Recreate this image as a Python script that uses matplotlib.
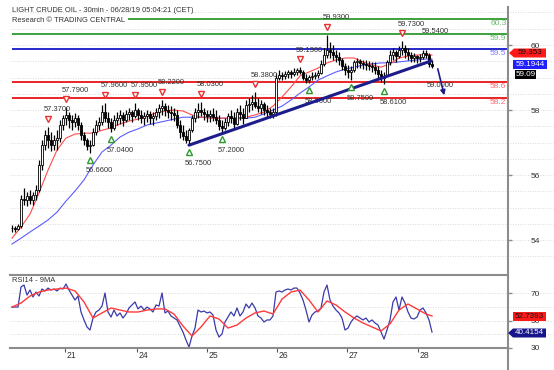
import numpy as np
import matplotlib
matplotlib.use("Agg")
import matplotlib.pyplot as plt
from matplotlib import transforms
from matplotlib.lines import Line2D
from matplotlib.patches import Polygon

plt.rcParams['font.family'] = ['Liberation Sans', 'DejaVu Sans']

# 30min crude oil, resampled to one bar per ~3px column
high = [54.46, 54.43, 54.49, 55.38, 55.60, 55.48, 55.54, 55.48, 55.69, 56.46,
        57.08, 57.38, 57.48, 57.32, 57.23, 57.38, 57.69, 57.85, 58.09, 57.94,
        57.85, 57.91, 57.85, 57.63, 57.32, 57.14, 57.08, 57.45, 57.69, 57.78,
        58.15, 58.22, 57.94, 57.75, 57.85, 57.94, 58.00, 57.94, 58.00, 58.06,
        58.00, 58.22, 58.06, 58.00, 57.94, 58.00, 57.97, 57.94, 58.06, 58.18,
        58.31, 58.22, 58.15, 58.12, 58.06, 58.00, 57.69, 57.54, 57.38, 57.45,
        57.85, 58.06, 58.22, 58.25, 58.06, 58.00, 58.00, 58.06, 58.00, 57.85,
        57.69, 57.75, 57.91, 58.00, 57.94, 58.06, 58.15, 58.06, 58.31, 58.37,
        58.46, 58.55, 58.37, 58.31, 58.25, 58.15, 58.06, 58.06, 59.14, 59.23,
        59.17, 59.20, 59.23, 59.23, 59.29, 59.29, 59.32, 59.23, 59.11, 59.08,
        59.17, 59.17, 59.23, 59.54, 59.91, 60.31, 60.09, 60.00, 59.85, 59.78,
        59.60, 59.45, 59.38, 59.35, 59.54, 59.60, 59.57, 59.54, 59.54, 59.51,
        59.48, 59.48, 59.35, 59.23, 59.17, 59.54, 59.85, 59.91, 59.85, 59.97,
        60.12, 60.00, 59.91, 59.78, 59.75, 59.69, 59.72, 59.85, 59.85, 59.75, 59.54]
low = [54.25, 54.25, 54.31, 54.37, 55.08, 55.05, 55.11, 55.08, 55.23, 55.48,
       56.15, 56.77, 56.83, 56.74, 56.77, 56.77, 57.02, 57.38, 57.54, 57.45,
       57.38, 57.48, 57.38, 57.08, 56.92, 56.77, 56.68, 56.89, 57.23, 57.38,
       57.54, 57.63, 57.45, 57.32, 57.38, 57.54, 57.57, 57.51, 57.63, 57.69,
       57.63, 57.75, 57.69, 57.60, 57.54, 57.63, 57.57, 57.54, 57.69, 57.75,
       57.85, 57.82, 57.75, 57.69, 57.66, 57.45, 57.14, 57.08, 56.98, 56.92,
       57.32, 57.63, 57.75, 57.82, 57.69, 57.63, 57.63, 57.66, 57.57, 57.38,
       57.32, 57.38, 57.51, 57.60, 57.45, 57.54, 57.69, 57.57, 57.75, 57.94,
       58.00, 58.06, 57.94, 57.88, 57.85, 57.75, 57.75, 57.75, 57.82, 58.92,
       58.92, 58.95, 58.98, 58.98, 59.05, 59.08, 59.11, 58.92, 58.83, 58.83,
       58.92, 58.95, 58.98, 59.11, 59.35, 59.60, 59.60, 59.54, 59.48, 59.38,
       59.23, 59.08, 58.98, 58.92, 59.17, 59.29, 59.29, 59.26, 59.23, 59.23,
       59.17, 59.11, 58.98, 58.86, 58.80, 59.05, 59.38, 59.54, 59.48, 59.60,
       59.69, 59.60, 59.54, 59.48, 59.48, 59.45, 59.48, 59.57, 59.60, 59.32, 59.29]
close = [54.37, 54.34, 54.43, 55.28, 55.23, 55.35, 55.23, 55.38, 55.54, 56.31,
         56.92, 57.23, 57.08, 56.92, 57.08, 57.14, 57.54, 57.75, 57.85, 57.69,
         57.63, 57.75, 57.54, 57.23, 57.08, 56.89, 56.92, 57.32, 57.54, 57.63,
         57.94, 57.75, 57.63, 57.45, 57.69, 57.75, 57.85, 57.69, 57.88, 57.94,
         57.82, 58.00, 57.85, 57.75, 57.82, 57.88, 57.75, 57.82, 57.94, 58.06,
         58.12, 58.00, 57.94, 57.91, 57.85, 57.54, 57.32, 57.20, 57.08, 57.38,
         57.75, 57.94, 58.00, 57.94, 57.88, 57.82, 57.88, 57.78, 57.69, 57.51,
         57.45, 57.63, 57.82, 57.75, 57.57, 57.94, 57.88, 57.75, 58.15, 58.18,
         58.25, 58.12, 58.06, 58.18, 58.00, 57.94, 57.88, 57.94, 58.98, 59.08,
         59.05, 59.11, 59.17, 59.11, 59.17, 59.23, 59.17, 58.98, 58.92, 59.02,
         59.05, 59.08, 59.14, 59.42, 59.69, 59.85, 59.78, 59.69, 59.63, 59.54,
         59.35, 59.23, 59.17, 59.23, 59.48, 59.51, 59.45, 59.42, 59.38, 59.35,
         59.32, 59.23, 59.11, 58.98, 59.05, 59.48, 59.69, 59.78, 59.66, 59.85,
         59.91, 59.78, 59.69, 59.60, 59.66, 59.60, 59.63, 59.75, 59.69, 59.42, 59.35]

# moving averages, read every 3rd bar
ma_bars = list(range(0, 139, 3)) + [140]
ma_red = [54.06, 54.40, 54.80, 55.45, 56.15, 56.77, 57.14, 57.26, 57.29, 57.29,
          57.38, 57.45, 57.57, 57.66, 57.72, 57.82, 57.91, 57.97, 58.00, 57.97,
          57.85, 57.78, 57.75, 57.75, 57.75, 57.75, 57.78, 57.85, 57.94, 58.12,
          58.40, 58.71, 59.05, 59.17, 59.29, 59.45, 59.54, 59.60, 59.60, 59.48,
          59.38, 59.32, 59.42, 59.60, 59.66, 59.69, 59.72, 59.69]
ma_blue = [53.88, 54.06, 54.25, 54.43, 54.62, 54.86, 55.20, 55.51, 55.85, 56.31,
           56.71, 56.92, 57.17, 57.32, 57.42, 57.54, 57.60, 57.66, 57.72, 57.78,
           57.78, 57.78, 57.78, 57.75, 57.75, 57.75, 57.75, 57.78, 57.88, 58.00,
           58.12, 58.31, 58.52, 58.71, 58.92, 59.05, 59.17, 59.26, 59.32, 59.38,
           59.42, 59.45, 59.45, 59.48, 59.51, 59.54, 59.57, 59.57]

rsi = [59.8, 59.8, 59.8, 74.4, 75.8, 68.5, 72.2, 67.1, 70.7, 67.8,
       72.9, 71.5, 73.6, 72.2, 72.9, 71.5, 73.6, 72.9, 76.5, 72.2,
       68.5, 64.9, 67.8, 56.2, 50.4, 45.3, 43.1, 51.8, 56.2, 57.6,
       60.5, 70.0, 56.2, 52.5, 57.6, 53.3, 55.5, 51.8, 54.7, 59.1,
       61.3, 63.5, 58.4, 60.5, 57.6, 59.8, 58.4, 56.2, 61.3, 60.5,
       70.0, 55.5, 56.9, 53.3, 51.8, 50.4, 46.0, 41.6, 35.8, 30.7,
       38.7, 44.5, 57.6, 56.2, 56.9, 55.5, 56.2, 54.0, 43.1, 38.0,
       40.2, 48.9, 52.5, 56.2, 53.3, 59.1, 53.3, 56.2, 62.0, 59.1,
       62.7, 59.1, 53.3, 51.8, 48.9, 50.4, 50.4, 53.3, 70.7, 71.5,
       70.7, 72.2, 72.9, 72.2, 73.6, 73.6, 70.0, 64.9, 57.6, 48.9,
       54.0, 56.2, 56.9, 59.1, 70.7, 75.8, 64.9, 60.5, 57.6, 55.5,
       51.8, 43.1, 44.5, 48.9, 51.8, 53.3, 51.8, 50.4, 51.8, 48.9,
       50.4, 48.2, 46.7, 41.6, 36.5, 43.1, 50.4, 63.5, 67.1, 57.6,
       67.1, 62.7, 56.2, 51.8, 51.1, 52.5, 57.6, 59.1, 55.5, 50.4, 41.6]
rsi_ma = [59.8, 62.7, 67.8, 70.7, 72.2, 72.9, 73.6, 71.5, 63.5, 51.8,
          55.5, 59.1, 57.6, 56.2, 56.2, 57.6, 58.4, 58.4, 54.7, 46.0,
          38.7, 45.3, 53.3, 51.1, 44.5, 46.7, 51.8, 55.5, 56.9, 54.7,
          65.6, 70.7, 72.2, 64.9, 56.2, 64.2, 61.3, 56.2, 51.8, 48.2,
          45.3, 42.4, 47.5, 57.6, 62.0, 58.4, 54.7, 53.3]

# support / resistance levels (line, label)
levels = [60.80, 60.34, 59.88, 58.86, 58.37]
level_labels = ["60.3", "59.9", "59.5", "58.6", "58.2"]
level_colors = ['#2f9a2f', '#2f9a2f', '#1616c8', '#e81414', '#e81414']
level_text_colors = ['#6dbb6d', '#6dbb6d', '#7d7dff', '#ff6a6a', '#ff6a6a']

# swing highs / lows
peak_bars = [12, 18, 31, 41, 50, 63, 81, 96, 105, 130]
peak_labels = ["57.3700", "57.7900", "57.9600", "57.9500", "58.2200",
               "58.0300", "58.3800", "59.1300", "59.9300", "59.7300"]
trough_bars = [26, 33, 59, 70, 99, 113, 124]
trough_labels = ["56.6600", "57.0400", "56.7500", "57.2000",
                 "58.6600", "58.7500", "58.6100"]

trend_x = [59, 139.7]
trend_y = [56.92, 59.51]

day_ticks = [17.7, 41.7, 65.0, 88.3, 111.7, 135.3]
day_labels = ["21", "24", "25", "26", "27", "28"]

W, H = 554, 370
fig = plt.figure(figsize=(W / 100, H / 100), dpi=100)
ax = fig.add_axes([10 / W, 1 - 272 / H, 498 / W, 267 / H])
rx = fig.add_axes([10 / W, 1 - 348 / H, 498 / W, 73 / H])
xmax = 165.33
fs = 5.4
grey = '#8c8c8c'

high = np.array(high)
low = np.array(low)
close = np.array(close)
bars = np.arange(len(close))
opens = np.r_[close[0], close[:-1]]

# ---- price panel ----
for g in np.arange(53.5, 61.01, 0.5):
    ax.plot([0, 1.09], [g, g], transform=ax.get_yaxis_transform(), clip_on=False,
            color='#cfcfcf', lw=0.6, ls=(0, (1, 2)), zorder=0)

for lv, c in zip(levels, level_colors):
    ax.plot([0, xmax], [lv, lv], color=c, lw=1.3, zorder=1, solid_capstyle='butt')
for lv, t, c in zip(levels, level_labels, level_text_colors):
    ax.annotate(t, (0.997, lv), xycoords=('axes fraction', 'data'), xytext=(0, -1),
                textcoords='offset points', ha='right', va='top', color=c, fontsize=fs + 0.6)

ax.plot(ma_bars, ma_blue, color='#5c5cff', lw=0.8, zorder=2)
ax.plot(ma_bars, ma_red, color='#ff4a4a', lw=0.8, zorder=2)

ax.vlines(bars, low, high, color='black', lw=0.9, zorder=3)
up = close >= opens
ax.bar(bars[up], (close - opens)[up], bottom=opens[up], width=0.6, color='white',
       edgecolor='black', lw=0.6, zorder=4)
ax.bar(bars[~up], (close - opens)[~up], bottom=opens[~up], width=0.6, color='black',
       edgecolor='black', lw=0.6, zorder=4)

ax.plot(trend_x, trend_y, color='#1c1c8c', lw=2.2, zorder=5, solid_capstyle='round')
ax.annotate('', xy=(144.3, 58.37), xytext=(141.7, 59.35),
            arrowprops=dict(arrowstyle='-|>', color='#1c1c8c', lw=1.2, mutation_scale=7))

up_tri = transforms.offset_copy(ax.transData, fig=fig, y=8, units='dots')
up_txt = transforms.offset_copy(ax.transData, fig=fig, y=17, units='dots')
dn_tri = transforms.offset_copy(ax.transData, fig=fig, y=-7, units='dots')
dn_txt = transforms.offset_copy(ax.transData, fig=fig, y=-18, units='dots')
for b, t in zip(peak_bars, peak_labels):
    ax.plot(b, high[b], 'v', ms=5, mfc='white', mec='#e83030', mew=1, transform=up_tri, zorder=6)
    ax.text(b + 3, high[b], t, transform=up_txt, ha='center', va='center', fontsize=fs, color='#333333')
for b, t in zip(trough_bars, trough_labels):
    ax.plot(b, low[b], '^', ms=5, mfc='white', mec='#2e9a2e', mew=1, transform=dn_tri, zorder=6)
    ax.text(b + 3, low[b], t, transform=dn_txt, ha='center', va='center', fontsize=fs, color='#333333')
ax.text(141, 60.40, "59.5400", ha='center', va='center', fontsize=fs, color='#333333')
ax.text(142.7, 58.77, "59.0000", ha='center', va='center', fontsize=fs, color='#333333')

ax.set_xlim(-0.667, xmax)
ax.set_ylim(53.02, 61.23)
ax.yaxis.tick_right()
ax.set_yticks([54, 56, 58, 60])
ax.tick_params(axis='y', length=3, width=1, color=grey, pad=13, labelsize=fs + 0.6, labelcolor='#333333')
ax.set_xticks([])
for s in ax.spines.values():
    s.set_visible(False)

# ---- RSI panel ----
for g in [40, 50, 60, 70]:
    rx.plot([0, 1.09], [g, g], transform=rx.get_yaxis_transform(), clip_on=False,
            color='#cfcfcf', lw=0.6, ls=(0, (1, 2)), zorder=0)
rx.plot(bars, rsi, color='#3a3aaa', lw=0.9)
rx.plot(ma_bars, rsi_ma, color='#ff3a3a', lw=1.0)
rx.set_xlim(-0.667, xmax)
rx.set_ylim(30, 83.1)
rx.yaxis.tick_right()
rx.set_yticks([30, 50, 70])
rx.tick_params(axis='y', length=3, width=1, color=grey, pad=13, labelsize=fs + 0.6, labelcolor='#333333')
rx.set_xticks(day_ticks)
rx.set_xticklabels([])
rx.tick_params(axis='x', length=3, width=0.8, color='#555555')
for t, lab in zip(day_ticks, day_labels):
    rx.annotate(lab, (t, 0), xycoords=('data', 'axes fraction'), xytext=(1.2, -2.5),
                textcoords='offset points', ha='left', va='top', fontsize=fs + 0.8, color='#333333')
for k in ['left', 'right']:
    rx.spines[k].set_visible(False)
for k in ['top', 'bottom']:
    rx.spines[k].set_color(grey)
    rx.spines[k].set_linewidth(1.5)
rx.text(0.004, 0.93, "RSI14 - 9MA", transform=rx.transAxes, va='center', ha='left',
        fontsize=fs, color='#333333')

# ---- frame, headers, last-value boxes ----
fig.add_artist(Line2D([508 / W, 508 / W], [1 - 7 / H, 0], color=grey, lw=1.5))
fig.text(12 / W, 1 - 11 / H, "LIGHT CRUDE OIL - 30min - 06/28/19 05:04:21 (CET)",
         fontsize=fs, va='center', ha='left', color='#333333')
fig.text(12 / W, 1 - 21 / H, "Research \u00a9 TRADING CENTRAL", fontsize=fs, va='center',
         ha='left', color='#333333', bbox=dict(fc='white', ec='none', pad=2))


def box(x0, x1, y, s, fc, tc, arrow=False):
    # value tag on the right axis, in pixel coords
    pts = [(x0, y - 4.5), (x1, y - 4.5), (x1, y + 4.5), (x0, y + 4.5)]
    if arrow:
        pts = [(x0 - 5, y)] + pts
    fig.add_artist(Polygon([(px / W, 1 - py / H) for px, py in pts], closed=True,
                           fc=fc, ec='none', transform=fig.transFigure, zorder=5))
    fig.text((x0 + x1) / 2 / W, 1 - y / H, s, fontsize=fs + 0.4, color=tc, va='center',
             ha='center', zorder=6)


box(514, 546, 53, "59.353", '#ff1a1a', '#111111', arrow=True)
box(513, 547, 64, "59.1944", '#2020ff', 'white')
box(515, 536, 74, "59.09", 'black', 'white')
box(513, 546, 316, "52.7393", '#ff1a1a', '#111111')
box(513, 546, 333, "40.4154", '#16168a', 'white', arrow=True)

fig.savefig("out.png", dpi=100)
